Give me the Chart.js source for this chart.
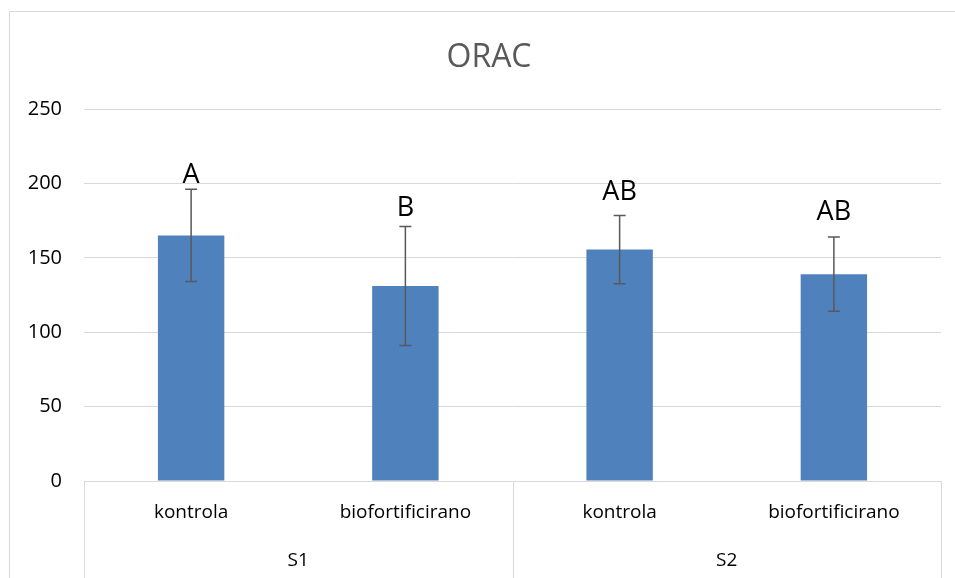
<!DOCTYPE html>
<html>
<head>
<meta charset="utf-8">
<script src="https://cdn.jsdelivr.net/npm/chart.js@4/dist/chart.umd.min.js"></script>
<style>
  html, body { margin: 0; padding: 0; background: #fff; }
  #wrap { width: 955px; height: 578px; }
</style>
</head>
<body>
<div id="wrap"><canvas id="oracChart" width="955" height="578"></canvas></div>
<script>
// values
const chartTitle = 'ORAC';
const categories = ['kontrola', 'biofortificirano', 'kontrola', 'biofortificirano'];
const groups = ['S1', 'S2'];
const oracValues = [165, 131, 155.5, 139];
const oracErrors = [31, 40, 23, 25];
const letters = ['A', 'B', 'AB', 'AB'];
const letterAt = [200, 178, 189, 175.5]; // where each letter sits (value units)
const yTicks = [0, 50, 100, 150, 200, 250];

const gridGray = '#d9d9d9';
const fontFamily = '"Open Sans", "Noto Sans", sans-serif';

// error bars, letters, title, group row and the outer frame
const extras = {
    id: 'extras',
    afterDatasetsDraw(chart) {
        const ctx = chart.ctx;
        const y = chart.scales.y;
        const meta = chart.getDatasetMeta(0);
        ctx.save();
        ctx.strokeStyle = '#595959';
        ctx.lineWidth = 1.5;
        meta.data.forEach((bar, i) => {
            const top = y.getPixelForValue(oracValues[i] + oracErrors[i]);
            const bot = y.getPixelForValue(oracValues[i] - oracErrors[i]);
            ctx.beginPath();
            ctx.moveTo(bar.x, top);
            ctx.lineTo(bar.x, bot);
            ctx.moveTo(bar.x - 6, top);
            ctx.lineTo(bar.x + 6, top);
            ctx.moveTo(bar.x - 6, bot);
            ctx.lineTo(bar.x + 6, bot);
            ctx.stroke();
        });
        ctx.fillStyle = '#000';
        ctx.font = '27px ' + fontFamily;
        ctx.textAlign = 'center';
        ctx.textBaseline = 'alphabetic';
        meta.data.forEach((bar, i) => {
            ctx.fillText(letters[i], bar.x, y.getPixelForValue(letterAt[i]));
        });
        ctx.restore();
    },
    afterDraw(chart) {
        const ctx = chart.ctx;
        const area = chart.chartArea;
        const h = chart.height;
        ctx.save();
        ctx.strokeStyle = gridGray;
        ctx.lineWidth = 1;
        // category group dividers
        const step = (area.right - area.left) / groups.length;
        for (let g = 0; g <= groups.length; g++) {
            const px = Math.round(area.left + g * step) + 0.5;
            ctx.beginPath();
            ctx.moveTo(px, area.bottom);
            ctx.lineTo(px, h);
            ctx.stroke();
        }
        // frame
        ctx.beginPath();
        ctx.moveTo(9.5, h);
        ctx.lineTo(9.5, 11.5);
        ctx.lineTo(chart.width, 11.5);
        ctx.stroke();
        ctx.textAlign = 'center';
        ctx.textBaseline = 'middle';
        ctx.fillStyle = '#000';
        ctx.font = '19px ' + fontFamily;
        groups.forEach((g, i) => {
            ctx.fillText(g, area.left + (i + 0.5) * step, 561);
        });
        ctx.fillStyle = '#595959';
        ctx.font = '32px ' + fontFamily;
        ctx.textBaseline = 'alphabetic';
        ctx.fillText(chartTitle, 489, 67);
        ctx.restore();
    }
};

new Chart(document.getElementById('oracChart'), {
    type: 'bar',
    data: {
        labels: categories,
        datasets: [{
            label: chartTitle,
            data: oracValues,
            backgroundColor: '#4f81bd',
            borderWidth: 0,
            categoryPercentage: 1,
            barPercentage: 0.31
        }]
    },
    options: {
        responsive: false,
        animation: false,
        layout: { padding: { top: 109, right: 14, bottom: 0, left: 0 } },
        plugins: {
            legend: { display: false },
            tooltip: { enabled: false },
            title: { display: false }
        },
        scales: {
            x: {
                grid: { display: false, drawTicks: false },
                border: { display: false },
                ticks: { color: '#000', font: { family: fontFamily, size: 19 }, padding: 20, maxRotation: 0 },
                afterFit(s) { s.height = 97; }
            },
            y: {
                min: 0,
                max: 250,
                afterBuildTicks(s) { s.ticks = yTicks.map(v => ({ value: v })); },
                grid: { color: gridGray, lineWidth: 1, drawTicks: false },
                border: { display: false },
                ticks: { color: '#000', font: { family: fontFamily, size: 20 }, padding: 22 },
                afterFit(s) { s.width = 84; }
            }
        }
    },
    plugins: [extras]
});
</script>
</body>
</html>
